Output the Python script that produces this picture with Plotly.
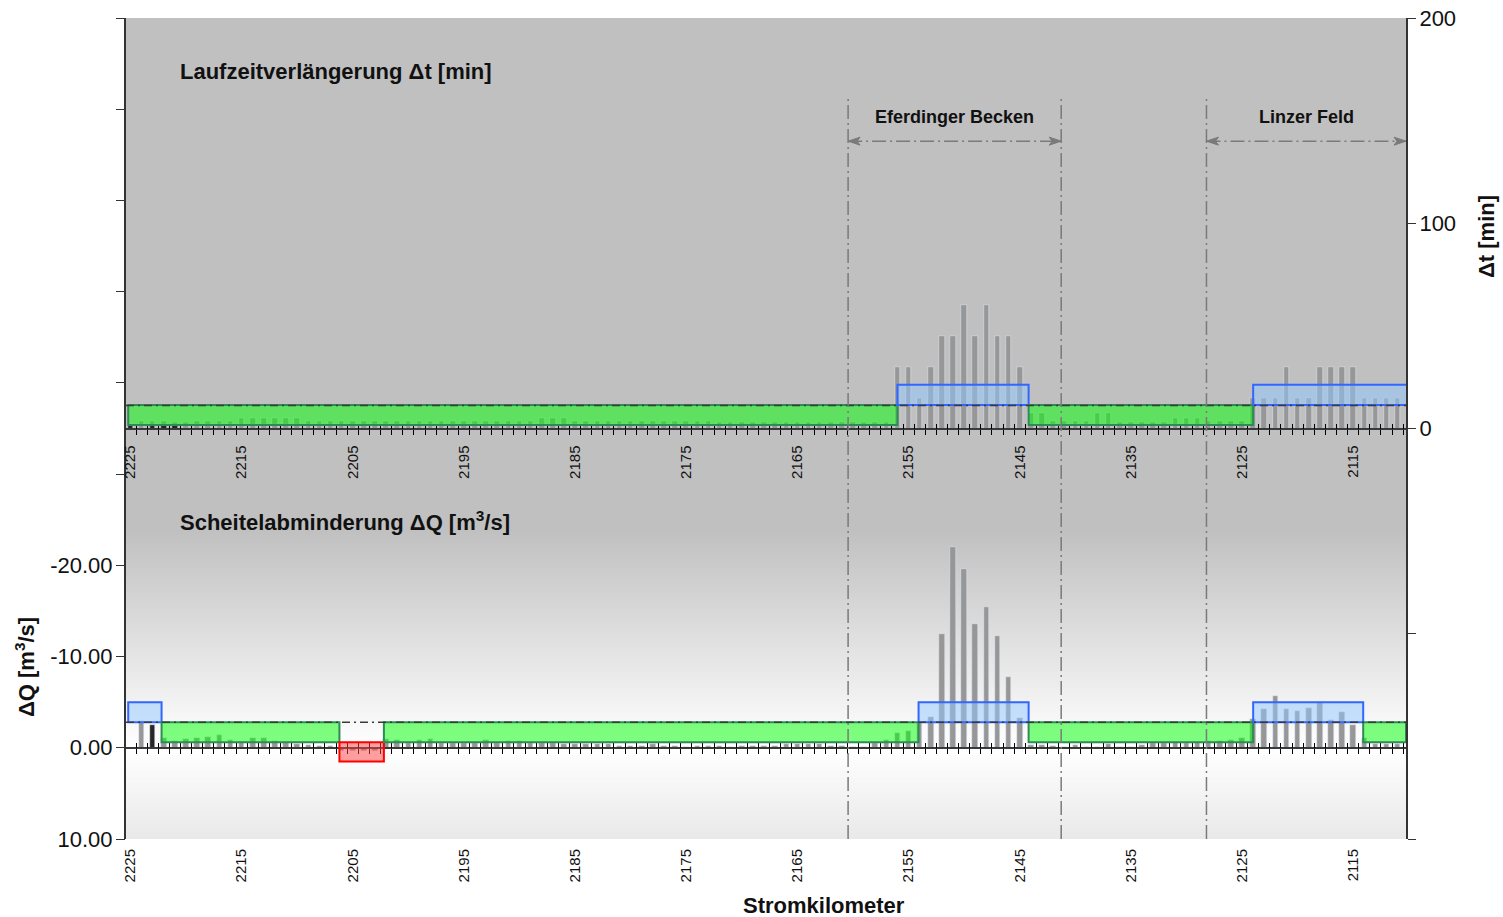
import struct, zlib, base64
import plotly.graph_objects as go

# ---------------- data ----------------
km = list(range(2225, 2110, -1))  # 2225 ... 2111

dt_gray = [
    2.0, 3.5, 3.8, 3.8, 3.0, 3.0, 3.5, 3.5, 3.5, 3.5,          # 2225-2216
    5.0, 5.0, 5.0, 5.0, 5.0, 5.0,                              # 2215-2210
    3.8, 3.8, 3.8, 3.8, 3.8, 3.8, 3.8, 3.8, 3.8, 3.8,          # 2209-2200
    3.8, 3.8, 3.8, 3.8, 3.8, 3.8, 3.8, 3.8, 3.8, 3.8, 3.8,     # 2199-2189
    5.1, 5.1, 5.1,                                             # 2188-2186
    3.8, 3.8, 3.8, 3.8, 3.8, 3.8, 3.8, 3.8, 3.8, 3.8, 3.8, 3.8, 3.8,  # 2185-2173
    3.0, 3.0, 3.0, 3.0, 3.0, 3.0, 3.0, 3.0, 3.0, 3.0, 3.0, 3.0, 3.0, 3.0, 3.0, 3.0,  # 2172-2157
    30, 30, 15, 30, 45, 45, 60, 45, 60, 45, 45, 30,            # 2156-2145
    7.5, 7.5, 3.8, 3.8, 3.8, 3.8, 7.5, 7.5,                    # 2144-2137
    3.0, 3.0, 3.0, 3.0, 3.0, 5.0, 5.0, 5.0, 3.8, 3.8, 3.8, 3.8,  # 2136-2125
    15, 15, 15, 30, 15, 15, 30, 30, 30, 30, 15, 15, 15, 15,    # 2124-2111
]
dt_black = [1.8, 0, 1.8, 1.8, 1.8] + [0] * 110

dq_gray = [
    0.0, -2.9, 0.0, -1.05, -0.7, -1.0, -1.05, -1.2, -1.45, -0.85,   # 2225-2216
    -0.6, -1.05, -1.05, -0.7, -0.6, -0.45, -0.3, -0.25, -0.25,      # 2215-2207
    0.4, 0.4, 0.4, 0.4,                                             # 2206-2203
    -1.0, -0.9, -0.55, -0.9, -1.0, -0.55, -0.55, -0.55, -0.55, -0.9,  # 2202-2193
    -0.55, -0.75, -0.75, -0.55, -0.55, -0.55, -0.45, -0.4, -0.45, -0.45,  # 2192-2183
    -0.4, -0.2, -0.25, -0.25, -0.4, -0.2, -0.25, -0.1, -0.25, -0.25,  # 2182-2173
    -0.2, -0.1, -0.25, -0.25, -0.25, -0.25, -0.4, -0.45, -0.45, -0.45,  # 2172-2163
    -0.25, -0.2, -0.1, -0.1, -0.55, -0.8,                            # 2162-2157
    -1.65, -1.8, -2.8, -3.4, -12.5, -22.0, -19.6, -13.6, -15.4, -12.3, -7.8, -3.3,  # 2156-2145
    -0.3, -0.3, -0.25, -0.1, -0.3, -0.1, -0.1, -0.4, -0.1, -0.1,     # 2144-2135
    -0.3, -0.5, -0.5, -0.6, -0.5, -0.6, -0.7, -0.7, -0.8, -1.1,      # 2134-2125
    -3.2, -4.2, -5.7, -4.2, -4.0, -4.4, -5.0, -3.0, -3.9, -2.45,     # 2124-2115
    -1.1, -0.4, -0.4, -0.4,                                         # 2114-2111
]
dq_black = [0, 0, -2.5] + [0] * 112

assert len(dt_gray) == len(km) == len(dq_gray)

x_labels = [2225, 2215, 2205, 2195, 2185, 2175, 2165, 2155, 2145, 2135, 2125, 2115]

# class segments (Stromkilometer from / to, class)
top_seg_from = [2225.2, 2156.0, 2144.2, 2124.0]
top_seg_to = [2156.0, 2144.2, 2124.0, 2110.1]
top_seg_cls = ["green", "blue", "green", "blue"]
bot_seg_from = [2225.2, 2222.2, 2206.2, 2202.2, 2154.1, 2144.2, 2124.0, 2114.1]
bot_seg_to = [2222.2, 2206.2, 2202.2, 2154.1, 2144.2, 2124.0, 2114.1, 2110.25]
bot_seg_cls = ["blue", "green", "red", "green", "blue", "green", "blue", "green"]

top_band = {"green": (1.7, 11.5), "blue": (11.5, 21.3)}
bot_band = {"green": (-0.6, -2.8), "blue": (-2.8, -5.0), "red": (1.5, -0.6)}
top_threshold = 11.2
bot_threshold = -2.8

region_names = ["Eferdinger Becken", "Linzer Feld"]
region_from = [2160.44, 2128.2]
region_to = [2141.27, 2110.25]
vlines_km = [2160.44, 2141.27, 2128.2]

XR = [2225.4, 2110.25]
YQ = [10, -80]
YT = [-200, 200]

q_ticks_all = list(range(-80, 11, 10))
q_ticks_lbl = [-20, -10, 0, 10]
t_ticks_all = [-200, -100, 0, 100, 200]
t_ticks_lbl = [0, 100, 200]

FONT = "Liberation Sans, Arial, sans-serif"

fill = {"green": "rgba(0,255,0,0.5)", "blue": "rgba(144,200,255,0.5)", "red": "rgba(255,64,64,0.5)"}
edge = {"green": "rgb(46,139,87)", "blue": "rgb(51,102,255)", "red": "rgb(255,0,0)"}


# ---------------- background gradient (styling) ----------------
def grad_png(stops, h=821, w=2):
    vals = []
    for i in range(h):
        f = i / (h - 1)
        for (f0, c0), (f1, c1) in zip(stops[:-1], stops[1:]):
            if f0 <= f <= f1:
                t = 0 if f1 == f0 else (f - f0) / (f1 - f0)
                vals.append(int(round(c0 + (c1 - c0) * t)))
                break
    raw = b"".join(b"\x00" + bytes([v, v, v]) * w for v in vals)

    def chunk(t, d):
        return struct.pack(">I", len(d)) + t + d + struct.pack(">I", zlib.crc32(t + d) & 0xffffffff)

    png = (b"\x89PNG\r\n\x1a\n"
           + chunk(b"IHDR", struct.pack(">IIBBBBB", w, h, 8, 2, 0, 0, 0))
           + chunk(b"IDAT", zlib.compress(raw))
           + chunk(b"IEND", b""))
    return "data:image/png;base64," + base64.b64encode(png).decode()


bg = grad_png([(0.0, 192), (0.6236, 192), (0.8889, 255), (1.0, 233)])

fig = go.Figure()

# bars
fig.add_trace(go.Bar(x=km, y=dt_gray, xaxis="x", yaxis="y2", marker_color="#979797", width=0.5,
                     showlegend=False))
fig.add_trace(go.Bar(x=km, y=dt_black, xaxis="x", yaxis="y2", marker_color="#262626", width=0.5,
                     showlegend=False))
fig.add_trace(go.Bar(x=km, y=dq_gray, xaxis="x", yaxis="y", marker_color="#979797", width=0.5,
                     showlegend=False))
fig.add_trace(go.Bar(x=km, y=dq_black, xaxis="x", yaxis="y", marker_color="#262626", width=0.5,
                     showlegend=False))

# empty helper traces so that the extra axes get drawn
for xa, ya in [("x2", "y2"), ("x3", "y2"), ("x4", "y2"), ("x5", "y"), ("x6", "y"), ("x", "y3"), ("x", "y4")]:
    fig.add_trace(go.Scatter(x=[None], y=[None], xaxis=xa, yaxis=ya, mode="markers",
                             showlegend=False, hoverinfo="skip"))

shapes = []
# class rectangles
for a, b, c in zip(top_seg_from, top_seg_to, top_seg_cls):
    y0, y1 = top_band[c]
    shapes.append(dict(type="rect", xref="x", yref="y2", x0=a, x1=b, y0=y0, y1=y1,
                       fillcolor=fill[c], line=dict(color=edge[c], width=2), layer="above"))
for a, b, c in zip(bot_seg_from, bot_seg_to, bot_seg_cls):
    y0, y1 = bot_band[c]
    shapes.append(dict(type="rect", xref="x", yref="y", x0=a, x1=b, y0=y0, y1=y1,
                       fillcolor=fill[c], line=dict(color=edge[c], width=2), layer="above"))
# threshold lines
DD_SHORT = "8px,4px,2px,4px"
DD_LONG = "14px,4px,2px,4px"
shapes.append(dict(type="line", xref="x", yref="y2", x0=XR[0], x1=XR[1], y0=top_threshold, y1=top_threshold,
                   line=dict(color="#3a3a3a", width=1.5, dash=DD_SHORT), layer="above"))
shapes.append(dict(type="line", xref="x", yref="y", x0=XR[0], x1=XR[1], y0=bot_threshold, y1=bot_threshold,
                   line=dict(color="#3a3a3a", width=1.5, dash=DD_SHORT), layer="above"))
# vertical region boundaries
for v in vlines_km:
    shapes.append(dict(type="line", xref="x", yref="y2", x0=v, x1=v, y0=-200, y1=162,
                       line=dict(color="#7a7a7a", width=1.5, dash=DD_LONG), layer="above"))
# region arrows (shaft + heads)
for a, b in zip(region_from, region_to):
    shapes.append(dict(type="line", xref="x", yref="y2", x0=a, x1=b, y0=140, y1=140,
                       line=dict(color="#7a7a7a", width=1.5, dash=DD_LONG), layer="above"))
    shapes.append(dict(type="path", xref="x", yref="y2", xsizemode="pixel", ysizemode="pixel",
                       xanchor=b, yanchor=140, path="M -12,-4 L 0,0 L -12,4 L -9,0 Z",
                       fillcolor="#7a7a7a", line=dict(color="#7a7a7a", width=1), layer="above"))
    shapes.append(dict(type="path", xref="x", yref="y2", xsizemode="pixel", ysizemode="pixel",
                       xanchor=a, yanchor=140, path="M 12,-4 L 0,0 L 12,4 L 9,0 Z",
                       fillcolor="#7a7a7a", line=dict(color="#7a7a7a", width=1), layer="above"))

annotations = []
for name, a, b in zip(region_names, region_from, region_to):
    annotations.append(dict(x=(a + b) / 2, y=152, xref="x", yref="y2", text="<b>%s</b>" % name,
                            showarrow=False, font=dict(family=FONT, size=18, color="#111")))

annotations.append(dict(x=0.0406, y=0.9354, xref="paper", yref="paper", xanchor="left", yanchor="middle",
                        text="<b>Laufzeitverlängerung Δt [min]</b>", showarrow=False,
                        font=dict(family=FONT, size=22, color="#111")))
annotations.append(dict(x=0.0406, y=0.3873, xref="paper", yref="paper", xanchor="left", yanchor="middle",
                        text="<b>Scheitelabminderung ΔQ [m<sup>3</sup>/s]</b>", showarrow=False,
                        font=dict(family=FONT, size=22, color="#111")))
# axis titles
annotations.append(dict(x=-0.0789, y=0.2095, xref="paper", yref="paper", xanchor="center", yanchor="middle",
                        text="<b>ΔQ [m<sup>3</sup>/s]</b>", textangle=-90, showarrow=False,
                        font=dict(family=FONT, size=22, color="#111")))
annotations.append(dict(x=1.0633, y=0.7333, xref="paper", yref="paper", xanchor="center", yanchor="middle",
                        text="<b>Δt [min]</b>", textangle=-90, showarrow=False,
                        font=dict(family=FONT, size=22, color="#111")))
annotations.append(dict(x=0.5453, y=-0.0816, xref="paper", yref="paper", xanchor="center", yanchor="middle",
                        text="<b>Stromkilometer</b>", showarrow=False,
                        font=dict(family=FONT, size=22, color="#111")))

halfkm = [k - 0.5 for k in km] + [km[0] + 0.5]
lbl_font = dict(family=FONT, size=15, color="#111")
tick_font = dict(family=FONT, size=22, color="#111")


def tick_axis(pos, side_ticks, line):
    return dict(range=XR, overlaying="x", anchor="free", position=pos, side="bottom",
                showgrid=False, zeroline=False, showline=line, linecolor="#3a3a3a", linewidth=2,
                tickmode="array", tickvals=halfkm, showticklabels=False,
                ticks=side_ticks, ticklen=5, tickcolor="#000", tickwidth=1)


fig.update_layout(
    width=1503, height=917,
    margin=dict(l=126, r=97, t=18, b=78, pad=0, autoexpand=False),
    paper_bgcolor="white", plot_bgcolor="rgba(0,0,0,0)",
    barmode="overlay", bargap=0,
    font=dict(family=FONT, size=22, color="#111"),
    images=[dict(source=bg, xref="paper", yref="paper", x=0, y=1, sizex=1, sizey=1,
                 sizing="stretch", layer="below", xanchor="left", yanchor="top")],
    xaxis=dict(range=XR, domain=[0, 1], anchor="y", side="bottom", showgrid=False, zeroline=False,
               showline=False, tickmode="array", tickvals=x_labels, ticktext=[str(v) for v in x_labels],
               ticks="outside", ticklen=3, tickcolor="rgba(0,0,0,0)", tickangle=-90, tickfont=lbl_font,
               automargin=False),
    xaxis2=dict(range=XR, overlaying="x", anchor="free", position=0.5, side="bottom",
                showgrid=False, zeroline=False, showline=False, tickmode="array", tickvals=x_labels,
                ticktext=[str(v) for v in x_labels], ticks="outside", ticklen=10,
                tickcolor="rgba(0,0,0,0)", tickangle=-90, tickfont=lbl_font, automargin=False),
    xaxis3=tick_axis(0.5, "outside", True),
    xaxis4=tick_axis(0.5, "inside", False),
    xaxis5=tick_axis(10 / 90, "outside", True),
    xaxis6=tick_axis(10 / 90, "inside", False),
    yaxis=dict(range=YQ, domain=[0, 1], side="left", showgrid=False, zeroline=False,
               showline=True, linecolor="#333", linewidth=1.5, tickmode="array", tickvals=q_ticks_all,
               showticklabels=False, ticks="outside", ticklen=8, tickcolor="#333", automargin=False),
    yaxis3=dict(range=YQ, overlaying="y", side="left", showgrid=False, zeroline=False,
                showline=False, tickmode="array", tickvals=q_ticks_lbl,
                ticktext=["%.2f" % v for v in q_ticks_lbl], ticks="outside", ticklen=8,
                tickcolor="#333", automargin=False, tickfont=tick_font),
    yaxis2=dict(range=YT, overlaying="y", side="right", showgrid=False, zeroline=False,
                showline=True, linecolor="#333", linewidth=1.5, tickmode="array", tickvals=t_ticks_all,
                showticklabels=False, ticks="outside", ticklen=8, tickcolor="#333", automargin=False),
    yaxis4=dict(range=YT, overlaying="y", side="right", showgrid=False, zeroline=False,
                showline=False, tickmode="array", tickvals=t_ticks_lbl,
                ticktext=[str(v) for v in t_ticks_lbl], ticks="outside", ticklen=8,
                tickcolor="#333", automargin=False, tickfont=tick_font),
    shapes=shapes,
    annotations=annotations,
    showlegend=False,
)

fig.write_html("out.html")
